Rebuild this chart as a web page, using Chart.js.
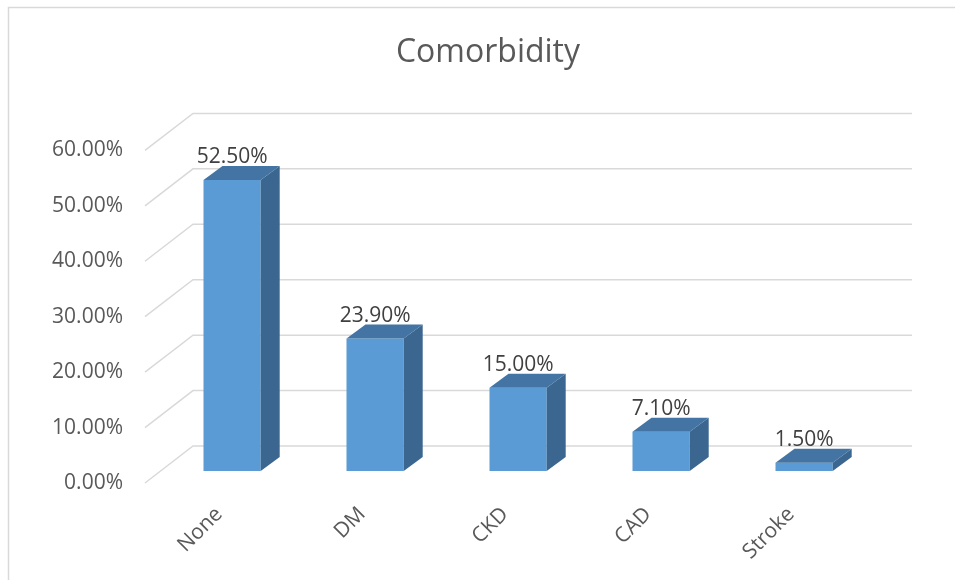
<!DOCTYPE html>
<html>
<head>
<meta charset="utf-8">
<script src="https://cdn.jsdelivr.net/npm/chart.js@4.4.1/dist/chart.umd.min.js"></script>
<style>
	html, body { margin: 0; padding: 0; background: #fff; }
	#wrap { width: 955px; height: 580px; }
</style>
</head>
<body>
<div id="wrap"><canvas id="myChart" width="955" height="580"></canvas></div>
<script>
"use strict";

// chart data
const categories = ['None', 'DM', 'CKD', 'CAD', 'Stroke'];
const comorbidity = [0.525, 0.239, 0.15, 0.071, 0.015];
const yTickMin = 0;
const yTickMax = 0.6;
const yTickStep = 0.1;
const chartTitle = 'Comorbidity';

const FONT = "'Open Sans', 'DejaVu Sans', sans-serif";
const TEXT = '#595959';

// 3d offsets (pixels) relative to the plane the bar fronts sit on
const FLOOR_FRONT = { dx: -15.6, dy: 12 };
const WALL = { dx: 32.4, dy: -25 };
const BAR_DEPTH = { dx: 19, dy: -14 };

function pct(v) {
	return (v * 100).toFixed(2) + '%';
}

// border, title and 3d gridlines behind the bars
const backdrop = {
	id: 'backdrop',
	beforeDatasetsDraw(chart) {
		const ctx = chart.ctx;
		const area = chart.chartArea;
		const y = chart.scales.y;
		ctx.save();
		ctx.strokeStyle = '#d9d9d9';
		ctx.lineWidth = 1.5;
		ctx.beginPath();
		ctx.moveTo(8.5, chart.height + 2);
		ctx.lineTo(8.5, 7.5);
		ctx.lineTo(chart.width + 2, 7.5);
		ctx.stroke();

		y.ticks.forEach(function(t) {
			const py = y.getPixelForValue(t.value);
			ctx.beginPath();
			ctx.moveTo(area.left + FLOOR_FRONT.dx, py + FLOOR_FRONT.dy);
			ctx.lineTo(area.left + WALL.dx, py + WALL.dy);
			ctx.lineTo(area.right + 36.4, py + WALL.dy);
			ctx.stroke();
		});

		// title is centred on the whole plot incl. the 3d wall, not the chart area
		ctx.fillStyle = TEXT;
		ctx.font = '32px ' + FONT;
		ctx.textAlign = 'center';
		ctx.textBaseline = 'alphabetic';
		ctx.fillText(chartTitle, 488, 62);
		ctx.restore();
	}
};

// side + top faces and value labels
const bars3d = {
	id: 'bars3d',
	afterDatasetsDraw(chart) {
		const ctx = chart.ctx;
		const meta = chart.getDatasetMeta(0);
		ctx.save();
		meta.data.forEach(function(bar, i) {
			const p = bar.getProps(['x', 'y', 'base', 'width'], true);
			const l = p.x - p.width / 2;
			const r = p.x + p.width / 2;
			const dx = BAR_DEPTH.dx, dy = BAR_DEPTH.dy;

			ctx.fillStyle = '#3a6690';
			ctx.beginPath();
			ctx.moveTo(r, p.y);
			ctx.lineTo(r + dx, p.y + dy);
			ctx.lineTo(r + dx, p.base + dy);
			ctx.lineTo(r, p.base);
			ctx.closePath();
			ctx.fill();

			ctx.fillStyle = '#4374a3';
			ctx.beginPath();
			ctx.moveTo(l, p.y);
			ctx.lineTo(l + dx, p.y + dy);
			ctx.lineTo(r + dx, p.y + dy);
			ctx.lineTo(r, p.y);
			ctx.closePath();
			ctx.fill();

			ctx.fillStyle = '#404040';
			ctx.font = '21px ' + FONT;
			ctx.textAlign = 'center';
			ctx.textBaseline = 'alphabetic';
			ctx.fillText(pct(comorbidity[i]), p.x, p.y + dy - 3);
		});
		ctx.restore();
	}
};

const ctx = document.getElementById('myChart');

new Chart(ctx, {
	type: 'bar',
	data: {
		labels: categories,
		datasets: [{
			label: chartTitle,
			data: comorbidity,
			backgroundColor: '#5b9bd5',
			borderWidth: 0,
			barPercentage: 0.4,
			categoryPercentage: 1
		}]
	},
	options: {
		responsive: false,
		devicePixelRatio: 1,
		animation: false,
		layout: {
			padding: { left: 0, right: 79.4, top: 138.4, bottom: 0 }
		},
		plugins: {
			legend: { display: false },
			tooltip: { enabled: false },
			title: { display: false }
		},
		scales: {
			x: {
				grid: { display: false },
				border: { display: false },
				ticks: {
					color: TEXT,
					font: { family: FONT, size: 21 },
					minRotation: 45,
					maxRotation: 45,
					padding: 23,
					labelOffset: -13
				},
				afterFit: function(s) { s.height = 109; }
			},
			y: {
				min: yTickMin,
				max: yTickMax,
				grid: { display: false },
				border: { display: false },
				ticks: {
					stepSize: yTickStep,
					color: TEXT,
					font: { family: FONT, size: 21 },
					padding: 29.6,
					labelOffset: 12,
					callback: function(v) { return pct(v); }
				},
				afterFit: function(s) { s.width = 160.6; }
			}
		}
	},
	plugins: [backdrop, bars3d]
});
</script>
</body>
</html>
